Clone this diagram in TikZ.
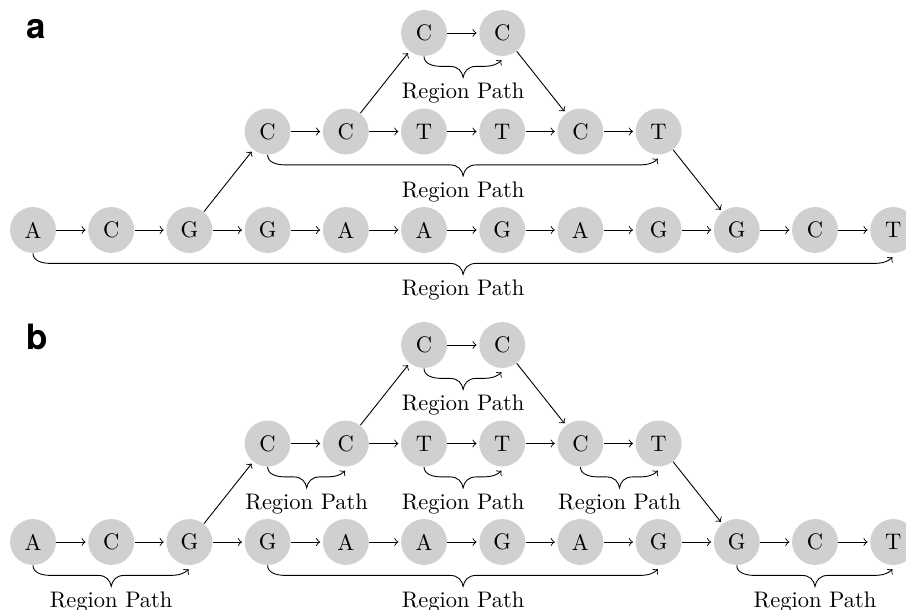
\documentclass[tikz,border=0pt]{standalone}
\usepackage{fontspec}
\newfontfamily\panelfont{TeX Gyre Heros}
\usetikzlibrary{calc}
\definecolor{nodegray}{RGB}{207,208,209}

% one unit = one pixel of a 906 x 609 canvas, y pointing down
\tikzset{
  base/.style={circle, fill=nodegray, minimum size=20.4pt, inner sep=0pt, font=\normalsize},
  arr/.style={->, shorten >=1pt},
  rbrace/.style={->, shorten >=0.5pt},
  lbl/.style={anchor=north, inner sep=2.4pt, font=\normalsize},
  panel/.style={anchor=base west, inner sep=0pt, font=\panelfont\bfseries\fontsize{15.5}{15.5}\selectfont}
}

% curly region-path connector below two nodes of one row, with its label
\newcommand\regionbrace[3]{%
  \draw[rbrace] let \p1=(#1.south), \p2=(#2.south) in
    (\p1) .. controls +(0,7) and +(-10,0) .. ($(\p1)+(18,10)$)
    -- ($(\p1)!.5!(\p2)+(-13,10)$)
    .. controls +(8,0) and +(-1,-6) .. ($(\p1)!.5!(\p2)+(0,21)$)
    node[lbl] (#3) {Region Path}
    .. controls +(1,-6) and +(-8,0) .. ($(\p1)!.5!(\p2)+(13,10)$)
    -- ($(\p2)+(-20,10)$) .. controls +(10,0) and +(-5,5) .. ($(\p2)+(0,3)$);
}

\begin{document}
\begin{tikzpicture}[x=0.4444pt, y=-0.4444pt]
\useasboundingbox (0,0) rectangle (906,609);

% ---------------- panel a ----------------
\node[panel] (la) at (26,38) {a};

\foreach \n/\t [count=\i] in {A,C,G,G,A,A,G,A,G,G,C,T}
  \node[base] (a\i) at ({33+78.2*(\i-1)},230) {\n};
\foreach \t [count=\i from 4] in {C,C,T,T,C,T}
  \node[base] (am\i) at ({33+78.2*(\i-1)},131.5) {\t};
\foreach \t [count=\i from 6] in {C,C}
  \node[base] (at\i) at ({33+78.2*(\i-1)},33) {\t};

\foreach \i [evaluate=\i as \j using int(\i+1)] in {1,...,11}
  \draw[arr] (a\i) -- (a\j);
\foreach \i [evaluate=\i as \j using int(\i+1)] in {4,...,8}
  \draw[arr] (am\i) -- (am\j);
\draw[arr] (at6) -- (at7);
\draw[arr] (a3) -- (am4);
\draw[arr] (am5) -- (at6);
\draw[arr] (at7) -- (am8);
\draw[arr] (am9) -- (a10);

\regionbrace{at6}{at7}{ra1}
\regionbrace{am4}{am9}{ra2}
\regionbrace{a1}{a12}{ra3}

% ---------------- panel b ----------------
\node[panel] (lb) at (26,349) {b};

\foreach \n [count=\i] in {A,C,G,G,A,A,G,A,G,G,C,T}
  \node[base] (b\i) at ({33+78.2*(\i-1)},542) {\n};
\foreach \t [count=\i from 4] in {C,C,T,T,C,T}
  \node[base] (bm\i) at ({33+78.2*(\i-1)},443.5) {\t};
\foreach \t [count=\i from 6] in {C,C}
  \node[base] (bt\i) at ({33+78.2*(\i-1)},345) {\t};

\foreach \i [evaluate=\i as \j using int(\i+1)] in {1,...,11}
  \draw[arr] (b\i) -- (b\j);
\foreach \i [evaluate=\i as \j using int(\i+1)] in {4,...,8}
  \draw[arr] (bm\i) -- (bm\j);
\draw[arr] (bt6) -- (bt7);
\draw[arr] (b3) -- (bm4);
\draw[arr] (bm5) -- (bt6);
\draw[arr] (bt7) -- (bm8);
\draw[arr] (bm9) -- (b10);

\regionbrace{bt6}{bt7}{rb1}
\regionbrace{bm4}{bm5}{rb2}
\regionbrace{bm6}{bm7}{rb3}
\regionbrace{bm8}{bm9}{rb4}
\regionbrace{b1}{b3}{rb5}
\regionbrace{b4}{b9}{rb6}
\regionbrace{b10}{b12}{rb7}
\end{tikzpicture}
\end{document}
